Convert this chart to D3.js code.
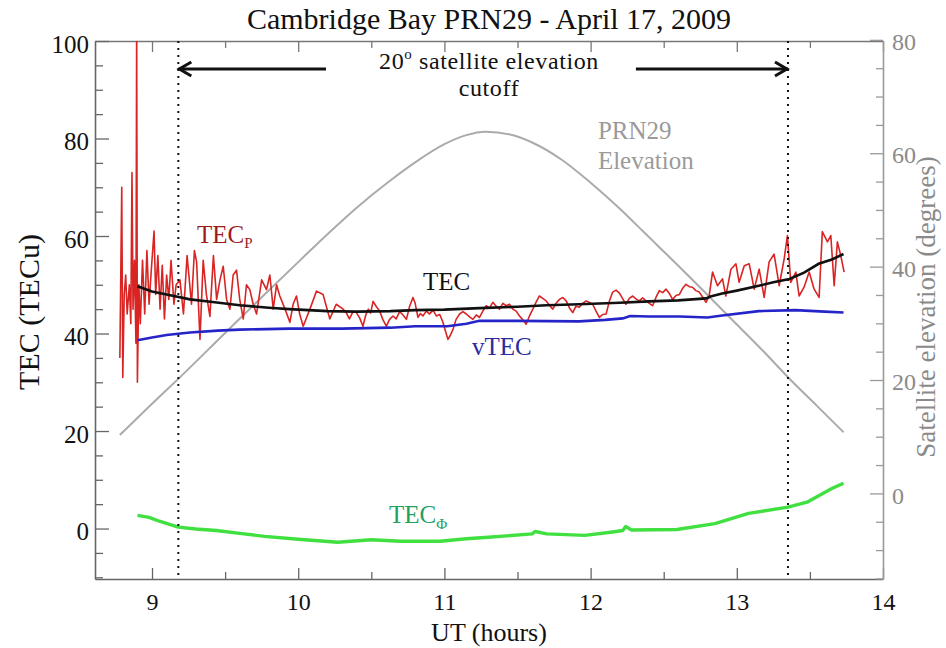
<!DOCTYPE html>
<html>
<head>
<meta charset="utf-8">
<script src="https://cdn.jsdelivr.net/npm/d3@7"></script>
<style>
  body { margin: 0; background: #fff; }
  svg text { font-family: "Liberation Serif", "Times New Roman", serif; }
</style>
</head>
<body>
<svg id="chart" width="946" height="648"></svg>
<script>
// ---- data -------------------------------------------------------------
const titleText = "Cambridge Bay PRN29 - April 17, 2009";

// Pseudorange TEC (noisy, TECu)
const tecPHours = [8.780, 8.793, 8.800, 8.810, 8.820, 8.830, 8.845, 8.855, 8.863, 8.870, 8.880, 8.890, 8.895, 8.900, 8.910, 8.920, 8.935, 8.950, 8.965, 8.980, 8.995, 9.014, 9.025, 9.040, 9.055, 9.070, 9.085, 9.100, 9.115, 9.130, 9.150, 9.165, 9.191, 9.215, 9.240, 9.270, 9.290, 9.305, 9.328, 9.350, 9.372, 9.396, 9.420, 9.442, 9.465, 9.487, 9.510, 9.533, 9.555, 9.578, 9.600, 9.624, 9.646, 9.669, 9.692, 9.715, 9.750, 9.783, 9.806, 9.829, 9.852, 9.874, 9.910, 9.943, 9.965, 9.988, 10.010, 10.034, 10.080, 10.125, 10.170, 10.216, 10.260,
  10.307, 10.330, 10.350, 10.375, 10.398, 10.420, 10.443, 10.462, 10.480, 10.495, 10.512, 10.535, 10.557, 10.580, 10.603, 10.625, 10.648, 10.670, 10.694, 10.717, 10.740, 10.762, 10.785, 10.800, 10.819, 10.836, 10.853, 10.876, 10.899, 10.922, 10.945, 10.968, 10.990, 11.007, 11.024, 11.040, 11.058, 11.080, 11.104, 11.127, 11.150, 11.172, 11.195, 11.218, 11.240, 11.263, 11.286, 11.308, 11.331, 11.354, 11.377, 11.400, 11.423, 11.445, 11.468, 11.491, 11.514, 11.537, 11.559, 11.582, 11.605, 11.628, 11.650, 11.673, 11.696, 11.718, 11.741, 11.764, 11.787, 11.810, 11.833, 11.856, 11.878, 11.900, 11.923, 11.946, 11.969, 11.991, 12.014, 12.037, 12.060, 12.083, 12.106, 12.128, 12.151, 12.174, 12.197, 12.220, 12.242, 12.265, 12.288, 12.310, 12.333, 12.356, 12.379, 12.402, 12.424, 12.447, 12.470, 12.493, 12.516, 12.539, 12.561, 12.584, 12.607, 12.630, 12.652, 12.675, 12.697, 12.720, 12.743, 12.766, 12.789,
  12.811, 12.834, 12.868, 12.902, 12.925, 12.960, 12.994, 13.016, 13.051, 13.085, 13.119, 13.153, 13.187, 13.221, 13.255, 13.290, 13.324, 13.346, 13.369, 13.404, 13.426, 13.460, 13.495, 13.529, 13.563, 13.585, 13.620, 13.643, 13.666, 13.688, 13.711, 13.734];
const tecPValues = [35, 70, 31, 48, 52, 44, 50, 42, 73, 45, 55, 38, 104, 30, 50, 42, 55, 44, 57, 46, 53, 61, 48, 56, 45, 54, 43, 52, 47, 55, 46, 50, 51, 44, 56, 46, 57, 54.7, 38.8, 55, 48, 43.5, 56, 47, 51, 53.8, 47, 45, 52, 53, 47, 43, 50, 49, 46, 44, 51, 49, 52, 45, 50, 47.7, 45, 42.3, 46, 47.7, 44, 41.5, 45, 48.7, 48, 43, 46,
  45, 44.2, 43, 44.5, 44.3, 43.2, 41.5, 43.8, 45, 44.2, 46.6, 45.5, 44.6, 42.8, 41.5, 42.9, 43.6, 43, 44.5, 43.8, 42.9, 45.6, 47.4, 46.2, 43.3, 44.1, 43.6, 44.6, 44, 44.8, 43.6, 43.9, 42.3, 40.5, 38.8, 39.6, 40.8, 42.9, 44, 44.5, 44, 43.4, 42.9, 43.8, 43.3, 44.6, 45.7, 45.2, 46.4, 45.6, 45, 46.2, 45.7, 46, 45, 44.6, 43.6, 42.8, 41.9, 43.6, 45, 46.5, 47.7, 47.2, 46.7, 45.8, 45, 46.2, 47, 47.4, 46.7, 45.2, 44.3, 45.6, 45.4, 46.2, 46.7, 46.4, 46, 44.6, 43.3, 43.9, 44, 46.6, 48.5, 48.9, 48.3, 47.1, 46, 47.2, 47.7, 47.1, 46.7, 47.3, 46.7, 46.2, 45.7, 47.4, 48.8, 48.4, 49.1, 48.2, 47, 47.8, 48, 49.3, 50.1, 49.6, 49.5, 48.8, 48.5, 47.5, 46.4,
  47.7, 52.6, 49.8, 51.2, 47.7, 53.2, 54.3, 50.5, 53.9, 54.3, 49.1, 53.2, 47.4, 54.7, 56.3, 49.8, 55.3, 60.1, 50.5, 52.6, 47.7, 49.5, 52.6, 49.1, 47.4, 60.9, 58.8, 60.1, 49.8, 58.8, 56, 52.6];

// Levelled slant TEC (TECu)
const tecHours = [8.90, 9.00, 9.10, 9.26, 9.40, 9.60, 9.80, 9.94, 10.20, 10.40, 10.63, 10.80, 11.00, 11.24, 11.50, 11.70, 11.92, 12.20, 12.40, 12.60, 12.79, 12.82, 12.90, 13.00, 13.15, 13.25, 13.36, 13.46, 13.56, 13.65, 13.73];
const tecValues = [49.7, 48.6, 48.0, 47.0, 46.5, 45.8, 45.3, 45.0, 44.6, 44.5, 44.6, 44.8, 44.9, 45.2, 45.5, 45.8, 46.0, 46.3, 46.6, 46.8, 47.2, 47.6, 48.2, 48.8, 49.8, 50.5, 51.2, 52.5, 54.3, 55.2, 56.3];

// Vertical TEC (TECu)
const vtecHours = [8.90, 9.00, 9.10, 9.26, 9.45, 9.60, 9.94, 10.30, 10.63, 10.80, 11.02, 11.15, 11.24, 11.50, 11.92, 12.10, 12.22, 12.27, 12.40, 12.61, 12.80, 12.90, 13.15, 13.40, 13.60, 13.73];
const vtecValues = [38.6, 39.2, 39.7, 40.2, 40.6, 40.8, 41.0, 41.0, 41.2, 41.5, 41.5, 42.0, 42.6, 42.6, 42.5, 42.8, 43.1, 43.6, 43.5, 43.5, 43.3, 43.7, 44.6, 44.8, 44.5, 44.3];

// Carrier-phase TEC (TECu)
const tecPhiHours = [8.90, 8.98, 9.05, 9.18, 9.30, 9.44, 9.60, 9.77, 10.00, 10.27, 10.50, 10.70, 10.97, 11.15, 11.30, 11.60, 11.62, 11.70, 11.96, 12.15, 12.22, 12.24, 12.28, 12.59, 12.85, 13.08, 13.35, 13.48, 13.65, 13.73];
const tecPhiValues = [2.7, 2.3, 1.5, 0.3, -0.1, -0.4, -1.0, -1.6, -2.2, -2.8, -2.3, -2.6, -2.6, -2.1, -1.8, -1.1, -0.6, -1.1, -1.4, -0.7, -0.4, 0.4, -0.3, -0.2, 1.0, 3.1, 4.4, 5.4, 8.2, 9.3];

// PRN29 elevation (degrees)
const elevHours = [8.78, 9.00, 9.18, 9.50, 9.75, 10.00, 10.22, 10.40, 10.63, 10.80, 11.00, 11.15, 11.28, 11.45, 11.60, 11.80, 12.00, 12.20, 12.36, 12.475, 12.61, 12.80, 13.00, 13.20, 13.35, 13.55, 13.73];
const elevValues = [10.3, 15.8, 20.2, 28.3, 34.6, 40.8, 46.2, 50.4, 55.2, 58.4, 61.6, 63.2, 63.8, 63.3, 61.9, 58.9, 54.8, 50.2, 46.2, 43.3, 39.9, 35.0, 29.8, 24.6, 20.5, 15.4, 10.8];

// 20 degree elevation cutoff times (UT hours)
const cutoffHours = [9.18, 13.35];

// axis ticks
const xMajorTicks = [9, 10, 11, 12, 13, 14];
const xMinorTicks = [9.5, 10.5, 11.5, 12.5, 13.5];
const yMajorTicks = [0, 20, 40, 60, 80, 100];
const yMinorTicks = [-10, -5, 5, 10, 15, 25, 30, 35, 45, 50, 55, 65, 70, 75, 85, 90, 95];
const eMajorTicks = [0, 20, 40, 60, 80];
const eMinorTicks = [-15, -10, -5, 5, 10, 15, 25, 30, 35, 45, 50, 55, 65, 70, 75];

// ---- layout -----------------------------------------------------------
const svg = d3.select("#chart");
const plot = { left: 95, right: 883, top: 41, bottom: 579 };

const x = d3.scaleLinear().domain([8.61, 14]).range([plot.left, plot.right]);
const y = d3.scaleLinear().domain([-10.35, 100]).range([plot.bottom, plot.top]);
const yE = d3.scaleLinear().domain([-15.1, 79.8]).range([plot.bottom, plot.top]);

svg.append("defs").append("clipPath").attr("id", "plotClip")
  .append("rect")
  .attr("x", plot.left).attr("y", plot.top)
  .attr("width", plot.right - plot.left).attr("height", plot.bottom - plot.top);

const zip = (hs, vs) => hs.map((h, i) => [h, vs[i]]);

// ---- axes -------------------------------------------------------------
function styleAxis(g, color, labelColor, size) {
  g.selectAll("path.domain").attr("stroke", color).attr("stroke-width", 1.6);
  g.selectAll(".tick line").attr("stroke", color).attr("stroke-width", 1.3);
  g.selectAll(".tick text").attr("fill", labelColor).attr("font-size", size)
    .attr("font-family", "Liberation Serif, Times New Roman, serif");
}

// bottom
const gB = svg.append("g").attr("transform", `translate(0,${plot.bottom})`)
  .call(d3.axisBottom(x).tickValues(xMajorTicks).tickSize(-11).tickSizeOuter(0).tickPadding(14).tickFormat(d3.format("d")));
styleAxis(gB, "#666", "#111", 24);
svg.append("g").attr("transform", `translate(0,${plot.bottom})`)
  .call(d3.axisBottom(x).tickValues(xMinorTicks).tickSize(-7).tickFormat(""))
  .call(g => { g.select("path.domain").remove(); styleAxis(g, "#666", "#111", 24); });

// top
const gT = svg.append("g").attr("transform", `translate(0,${plot.top})`)
  .call(d3.axisTop(x).tickValues(xMajorTicks).tickSize(-11).tickSizeOuter(0).tickFormat(""));
styleAxis(gT, "#777", "#111", 24);
svg.append("g").attr("transform", `translate(0,${plot.top})`)
  .call(d3.axisTop(x).tickValues(xMinorTicks).tickSize(-7).tickFormat(""))
  .call(g => { g.select("path.domain").remove(); styleAxis(g, "#777", "#111", 24); });

// left (TEC)
const gL = svg.append("g").attr("transform", `translate(${plot.left},0)`)
  .call(d3.axisLeft(y).tickValues(yMajorTicks).tickSize(-14).tickSizeOuter(0).tickPadding(6).tickFormat(d3.format("d")));
styleAxis(gL, "#666", "#111", 25);
gL.selectAll(".tick text").attr("dy", "0.45em");
svg.append("g").attr("transform", `translate(${plot.left},0)`)
  .call(d3.axisLeft(y).tickValues(yMinorTicks).tickSize(-8).tickFormat(""))
  .call(g => { g.select("path.domain").remove(); styleAxis(g, "#666", "#111", 25); });

// right (elevation)
const gR = svg.append("g").attr("transform", `translate(${plot.right},0)`)
  .call(d3.axisRight(yE).tickValues(eMajorTicks).tickSize(-13).tickSizeOuter(0).tickPadding(9).tickFormat(d3.format("d")));
styleAxis(gR, "#9a9a9a", "#8a8a8a", 24);
gR.selectAll(".tick text").attr("dy", "0.4em");
svg.append("g").attr("transform", `translate(${plot.right},0)`)
  .call(d3.axisRight(yE).tickValues(eMinorTicks).tickSize(-7).tickFormat(""))
  .call(g => { g.select("path.domain").remove(); styleAxis(g, "#9a9a9a", "#8a8a8a", 24); });

// ---- series -----------------------------------------------------------
const data = svg.append("g").attr("clip-path", "url(#plotClip)");

const lineT = d3.line().x(d => x(d[0])).y(d => y(d[1]));
const lineE = d3.line().x(d => x(d[0])).y(d => yE(d[1])).curve(d3.curveMonotoneX);

data.append("path").datum(zip(elevHours, elevValues))
  .attr("d", lineE).attr("fill", "none").attr("stroke", "#ababab").attr("stroke-width", 2);

data.append("path").datum(zip(tecPHours, tecPValues))
  .attr("d", lineT).attr("fill", "none").attr("stroke", "#d92424")
  .attr("stroke-width", 1.6).attr("stroke-linejoin", "round");

data.append("path").datum(zip(vtecHours, vtecValues))
  .attr("d", lineT).attr("fill", "none").attr("stroke", "#2424c8").attr("stroke-width", 2.6);

data.append("path").datum(zip(tecHours, tecValues))
  .attr("d", lineT).attr("fill", "none").attr("stroke", "#111").attr("stroke-width", 2.6);

data.append("path").datum(zip(tecPhiHours, tecPhiValues))
  .attr("d", lineT).attr("fill", "none").attr("stroke", "#40e040")
  .attr("stroke-width", 3.4).attr("stroke-linejoin", "round");

// cutoff markers
data.selectAll("line.cutoff").data(cutoffHours).join("line")
  .attr("class", "cutoff")
  .attr("x1", d => x(d)).attr("x2", d => x(d))
  .attr("y1", plot.top).attr("y2", plot.bottom)
  .attr("stroke", "#111").attr("stroke-width", 2).attr("stroke-dasharray", "2,5");

// ---- annotations ------------------------------------------------------
const arrowY = 69;
function arrow(fromH, toH) {
  const x0 = x(fromH), x1 = x(toH), dir = Math.sign(x0 - x1);
  svg.append("line").attr("x1", x0).attr("x2", x1).attr("y1", arrowY).attr("y2", arrowY)
    .attr("stroke", "#111").attr("stroke-width", 3);
  svg.append("path")
    .attr("d", `M${x1 + dir * 13},${arrowY - 7}L${x1 + 1 * dir},${arrowY}L${x1 + dir * 13},${arrowY + 7}`)
    .attr("fill", "none").attr("stroke", "#111").attr("stroke-width", 3).attr("stroke-linejoin", "miter");
}
arrow(10.19, cutoffHours[0]);
arrow(12.31, cutoffHours[1]);

const cut = svg.append("text").attr("x", 489).attr("y", 69).attr("text-anchor", "middle")
  .attr("font-size", 24).attr("letter-spacing", 0.6).attr("fill", "#111");
cut.append("tspan").text("20");
cut.append("tspan").text("o").attr("font-size", 15).attr("dy", -10);
cut.append("tspan").text(" satellite elevation").attr("dy", 10);
svg.append("text").attr("x", 489).attr("y", 96).attr("text-anchor", "middle")
  .attr("font-size", 24).attr("letter-spacing", 0.6).attr("fill", "#111").text("cutoff");

// series labels
const tp = svg.append("text").attr("x", x(9.308)).attr("y", y(58.56)).attr("font-size", 25).attr("fill", "#9c1c1c");
tp.append("tspan").text("TEC");
tp.append("tspan").text("P").attr("font-size", 15).attr("dy", 5);

svg.append("text").attr("x", x(10.853)).attr("y", y(48.9)).attr("font-size", 25).attr("fill", "#111").text("TEC");
svg.append("text").attr("x", x(11.189)).attr("y", y(35.6)).attr("font-size", 25).attr("fill", "#2b2b9c").text("vTEC");

const tf = svg.append("text").attr("x", x(10.621)).attr("y", y(1.13)).attr("font-size", 25).attr("fill", "#22a060");
tf.append("tspan").text("TEC");
tf.append("tspan").text("\u03A6").attr("font-size", 15).attr("dy", 6);

svg.append("text").attr("x", x(12.05)).attr("y", yE(62.5)).attr("font-size", 25).attr("fill", "#9a9a9a").text("PRN29");
svg.append("text").attr("x", x(12.05)).attr("y", yE(57.2)).attr("font-size", 25).attr("fill", "#9a9a9a").text("Elevation");

// titles
svg.append("text").attr("x", 489).attr("y", 29).attr("text-anchor", "middle")
  .attr("font-size", 30).attr("fill", "#111").text(titleText);
svg.append("text").attr("x", 489).attr("y", 641).attr("text-anchor", "middle")
  .attr("font-size", 26).attr("fill", "#111").text("UT (hours)");
svg.append("text").attr("transform", "translate(39,312) rotate(-90)").attr("text-anchor", "middle")
  .attr("font-size", 30).attr("fill", "#111").text("TEC (TECu)");
svg.append("text").attr("transform", "translate(935,307) rotate(-90)").attr("text-anchor", "middle")
  .attr("font-size", 27).attr("fill", "#8a8a8a").text("Satellite elevation (degrees)");
</script>
</body>
</html>
